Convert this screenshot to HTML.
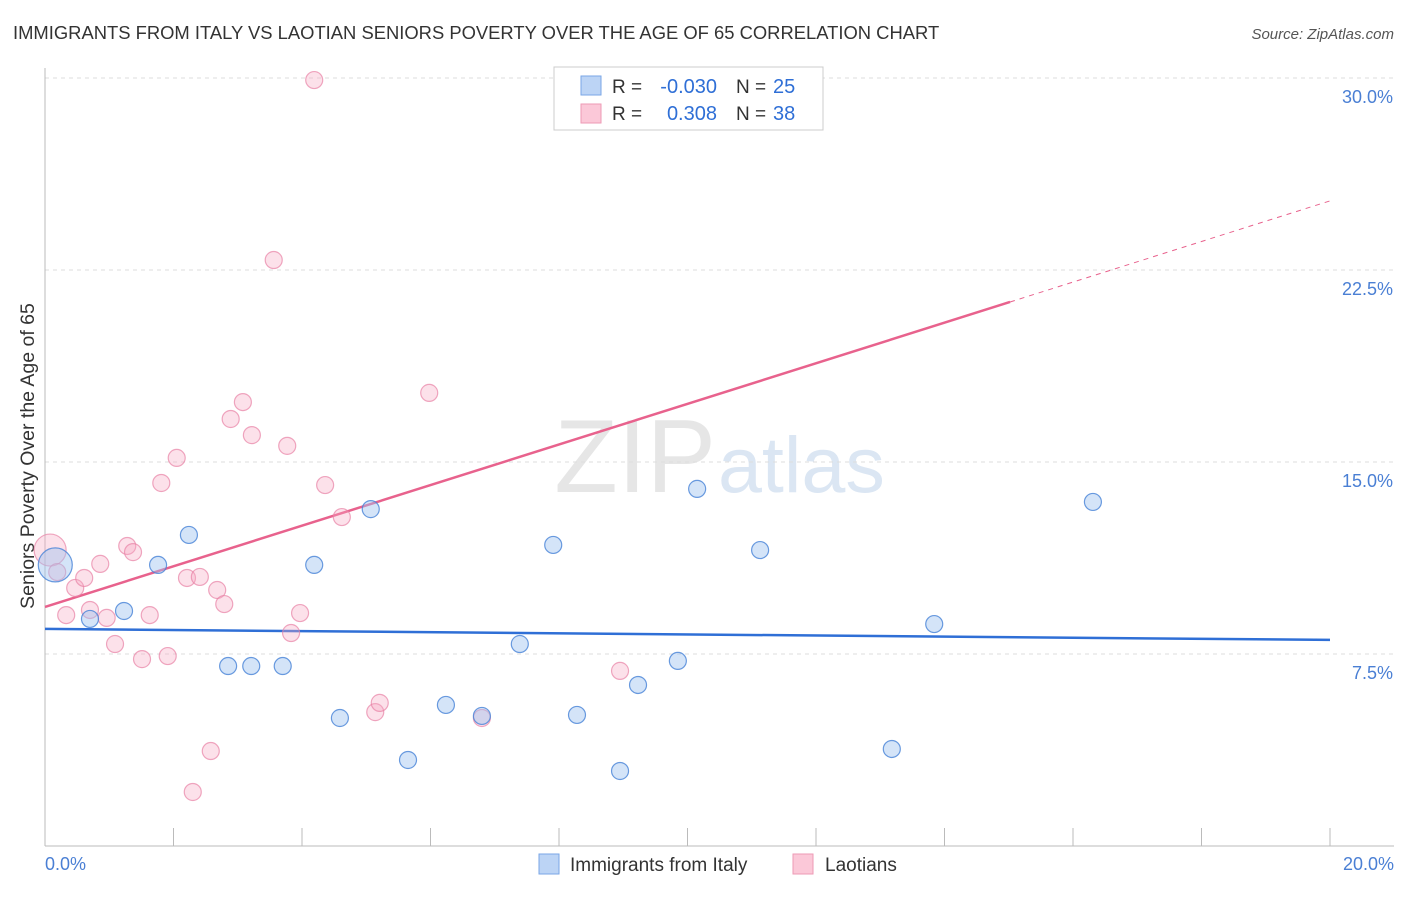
<!DOCTYPE html>
<html><head><meta charset="utf-8"><style>
body{margin:0;background:#fff;font-family:"Liberation Sans",sans-serif;}
svg text{font-family:"Liberation Sans",sans-serif;}
</style></head><body>
<svg width="1406" height="892" xmlns="http://www.w3.org/2000/svg">
<text x="13" y="39" font-size="18.4" fill="#333">IMMIGRANTS FROM ITALY VS LAOTIAN SENIORS POVERTY OVER THE AGE OF 65 CORRELATION CHART</text>
<text x="1394" y="39" font-size="15" fill="#555" font-style="italic" text-anchor="end">Source: ZipAtlas.com</text>
<text x="716" y="492" font-size="104" fill="#e6e6e6" text-anchor="end" font-family="Liberation Serif">ZIP</text>
<text x="718" y="492" font-size="79" fill="#dbe6f3">atlas</text>
<g id="grid"></g>
<line x1="45" y1="68" x2="45" y2="846" stroke="#bbb"/>
<line x1="45" y1="846" x2="1394" y2="846" stroke="#bbb"/>
<g id="ticks"></g>
<text x="45" y="870" font-size="18" fill="#4a7fd4">0.0%</text>
<text x="1394" y="870" font-size="18" fill="#4a7fd4" text-anchor="end">20.0%</text>
<text transform="translate(34,456) rotate(-90)" font-size="19.5" fill="#333" text-anchor="middle">Seniors Poverty Over the Age of 65</text>
<g id="lines"></g>
<g id="points"></g>
<g>
<rect x="554" y="67" width="269" height="63" fill="#fff" stroke="#ccc"/>
<rect x="581" y="76" width="20" height="19" fill="#bcd4f5" stroke="#7aa6e6"/>
<rect x="581" y="104" width="20" height="19" fill="#fbc8d8" stroke="#ee9ab5"/>
<text x="612" y="93" font-size="19" fill="#333">R =</text>
<text x="717" y="93" font-size="20" fill="#2f6fd6" text-anchor="end">-0.030</text>
<text x="736" y="93" font-size="19" fill="#333">N =</text>
<text x="773" y="93" font-size="20" fill="#2f6fd6">25</text>
<text x="612" y="120" font-size="19" fill="#333">R =</text>
<text x="717" y="120" font-size="20" fill="#2f6fd6" text-anchor="end">0.308</text>
<text x="736" y="120" font-size="19" fill="#333">N =</text>
<text x="773" y="120" font-size="20" fill="#2f6fd6">38</text>
</g>
<g>
<rect x="539" y="854" width="20" height="20" fill="#bcd4f5" stroke="#7aa6e6"/>
<text x="570" y="871" font-size="19" fill="#333">Immigrants from Italy</text>
<rect x="793" y="854" width="20" height="20" fill="#fbc8d8" stroke="#ee9ab5"/>
<text x="825" y="871" font-size="19" fill="#333">Laotians</text>
</g>
</svg>
<script>
const yTicks=[7.5,15,22.5,30];
const yTickLabels=["7.5%","15.0%","22.5%","30.0%"];
const xTicks=[0,2,4,6,8,10,12,14,16,18,20];
const blueX=[0.16,0.70,1.23,1.76,2.24,2.85,3.21,3.70,4.19,4.59,5.07,5.65,6.24,6.80,7.39,7.91,8.28,8.95,9.23,9.85,10.15,11.13,13.18,13.84,16.31];
const blueY=[10.98,8.87,9.18,10.98,12.15,7.03,7.03,7.03,10.98,5.0,13.16,3.36,5.51,5.08,7.89,11.76,5.12,2.93,6.29,7.23,13.95,11.56,3.79,8.67,13.44];
const pinkX=[0.08,0.19,0.33,0.47,0.61,0.70,0.86,0.96,1.09,1.28,1.37,1.51,1.63,1.81,1.91,2.05,2.21,2.30,2.41,2.58,2.68,2.79,2.89,3.08,3.22,3.56,3.77,3.83,3.97,4.19,4.36,4.62,5.14,5.21,5.98,6.80,8.95,10.58];
const pinkY=[11.56,10.70,9.02,10.08,10.47,9.22,11.02,8.91,7.89,11.72,11.48,7.30,9.02,14.18,7.42,15.16,10.47,2.11,10.51,3.71,10.0,9.45,16.68,17.34,16.05,22.89,15.63,8.32,9.10,29.92,14.10,12.85,5.23,5.59,17.70,5.0,6.84,29.22];
const blueLine=[8.48,8.05];
const pinkLine=[9.34,25.2];
const pinkSolidEnd=15.02;
const NS="http://www.w3.org/2000/svg";
const sx=v=>45+v*64.25, sy=v=>846-v*25.6;
function mk(t,a,p){const e=document.createElementNS(NS,t);for(const k in a)e.setAttribute(k,a[k]);document.getElementById(p).appendChild(e);return e;}
yTicks.forEach((t,i)=>{
 const l=mk('line',{x1:45,x2:1394,y1:sy(t),y2:sy(t),stroke:'#ddd','stroke-dasharray':'4,4'},'grid');
 
 
 const tx=mk('text',{x:1393,y:sy(t)+25,'font-size':18,fill:'#4a7fd4','text-anchor':'end'},'grid');
 tx.textContent=yTickLabels[i];
 
 
});
xTicks.forEach(t=>{
 const l=mk('line',{x1:sx(t),x2:sx(t),y1:828,y2:846,stroke:'#bbb'},'ticks');
 
 
});
const bl=mk('line',{x1:sx(0),y1:sy(blueLine[0]),x2:sx(20),y2:sy(blueLine[1]),stroke:'#2f6fd6','stroke-width':2.5},'lines');


const pAt=x=>pinkLine[0]+(pinkLine[1]-pinkLine[0])*x/20;
const pl=mk('line',{x1:sx(0),y1:sy(pAt(0)),x2:sx(pinkSolidEnd),y2:sy(pAt(pinkSolidEnd)),stroke:'#e8628d','stroke-width':2.5},'lines');


const pd=mk('line',{x1:sx(pinkSolidEnd),y1:sy(pAt(pinkSolidEnd)),x2:sx(20),y2:sy(pAt(20)),stroke:'#e8628d','stroke-width':1,'stroke-dasharray':'5,5'},'lines');


pinkX.forEach((x,i)=>{
 const c=mk('circle',{cx:sx(x),cy:sy(pinkY[i]),r:i==0?16:8.5,fill:'rgba(246,170,196,0.35)',stroke:'rgba(232,130,165,0.7)','stroke-width':1.2},'points');
 
 
});
blueX.forEach((x,i)=>{
 const c=mk('circle',{cx:sx(x),cy:sy(blueY[i]),r:i==0?17:8.5,fill:'rgba(160,195,240,0.45)',stroke:'rgba(70,130,215,0.8)','stroke-width':1.2},'points');
 
 
});
</script>
</body></html>
